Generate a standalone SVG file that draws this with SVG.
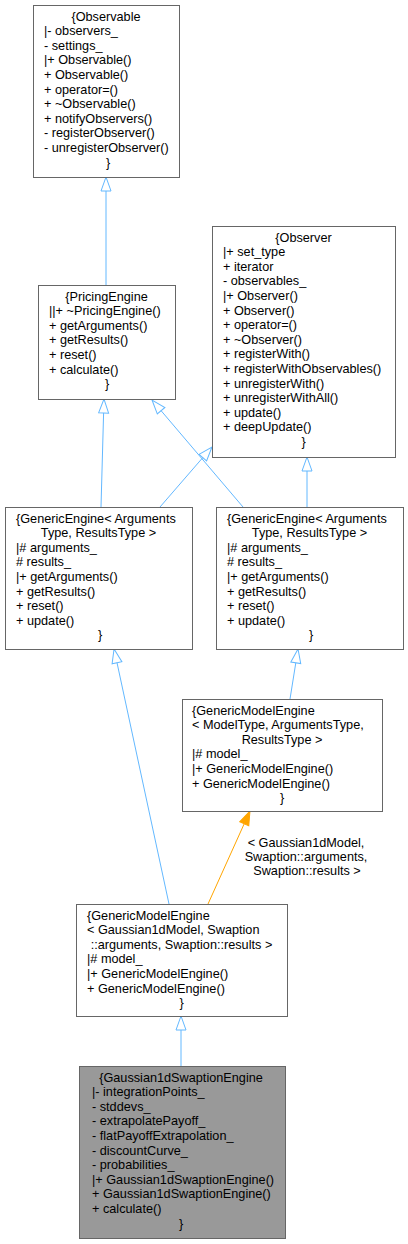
<svg xmlns="http://www.w3.org/2000/svg" width="408" height="1244" viewBox="0 0 408 1244">
<style>
text{font-family:"Liberation Sans",Arial,sans-serif;font-size:12.7px;fill:#000}
.c{text-anchor:middle}
.box{fill:#fff;stroke:#666;stroke-width:1}
.cur{fill:#999;stroke:#666;stroke-width:1}
.e{fill:none;stroke:#63b8ff;stroke-width:1}
.t{fill:none;stroke:#ffa500;stroke-width:1}
</style>
<defs>
<marker id="h" markerUnits="userSpaceOnUse" markerWidth="16" markerHeight="12" viewBox="-1 -6 16 12" refX="0" refY="0" orient="auto"><path d="M0,-5 L14,0 L0,5 Z" fill="none" stroke="#63b8ff" stroke-width="1"/></marker>
<marker id="o" markerUnits="userSpaceOnUse" markerWidth="16" markerHeight="12" viewBox="-1 -6 16 12" refX="0" refY="0" orient="auto"><path d="M0,-5 L14,0 L0,5 Z" fill="#ffa500" stroke="#ffa500" stroke-width="1"/></marker>
</defs>
<g id="edges">
<path class="e" d="M106,285 L106,191" marker-end="url(#h)"/>
<path class="e" d="M101,507 L103.6,413" marker-end="url(#h)"/>
<path class="e" d="M243,507 L161.1,410.7" marker-end="url(#h)"/>
<path class="e" d="M160,507 L202.8,457.6" marker-end="url(#h)"/>
<path class="e" d="M307,507 L307,471" marker-end="url(#h)"/>
<path class="e" d="M290,699 L295.8,662.8" marker-end="url(#h)"/>
<path class="e" d="M169,904 L117,662.7" marker-end="url(#h)"/>
<path class="t" d="M208,904 L244.2,823.8" marker-end="url(#o)"/>
<path class="e" d="M181,1066 L181,1030" marker-end="url(#h)"/>
<text class="c" x="306" y="847">&lt; Gaussian1dModel,</text>
<text class="c" x="306" y="861">Swaption::arguments,</text>
<text class="c" x="307" y="875">Swaption::results &gt;</text>
</g>
<g id="Observable">
<rect class="box" x="33.5" y="5.5" width="146" height="172"/>
<text class="c" x="106" y="20.5">{Observable</text>
<text x="44" y="35.1">|- observers_</text>
<text x="44" y="49.7">- settings_</text>
<text x="44" y="64.3">|+ Observable()</text>
<text x="44" y="78.9">+ Observable()</text>
<text x="44" y="93.5">+ operator=()</text>
<text x="44" y="108.1">+ ~Observable()</text>
<text x="44" y="122.7">+ notifyObservers()</text>
<text x="44" y="137.3">- registerObserver()</text>
<text x="44" y="151.9">- unregisterObserver()</text>
<text class="c" x="108" y="166.5">}</text>
</g>
<g id="PricingEngine">
<rect class="box" x="38.5" y="285.5" width="137" height="114"/>
<text class="c" x="106.5" y="300.5">{PricingEngine</text>
<text x="49" y="315.1">||+ ~PricingEngine()</text>
<text x="49" y="329.7">+ getArguments()</text>
<text x="49" y="344.3">+ getResults()</text>
<text x="49" y="358.9">+ reset()</text>
<text x="49" y="373.5">+ calculate()</text>
<text class="c" x="107" y="388.1">}</text>
</g>
<g id="Observer">
<rect class="box" x="212.5" y="226.5" width="183" height="231"/>
<text class="c" x="303.5" y="241.5">{Observer</text>
<text x="223" y="256.1">|+ set_type</text>
<text x="223" y="270.7">+ iterator</text>
<text x="223" y="285.3">- observables_</text>
<text x="223" y="299.9">|+ Observer()</text>
<text x="223" y="314.5">+ Observer()</text>
<text x="223" y="329.1">+ operator=()</text>
<text x="223" y="343.7">+ ~Observer()</text>
<text x="223" y="358.3">+ registerWith()</text>
<text x="223" y="372.9">+ registerWithObservables()</text>
<text x="223" y="387.5">+ unregisterWith()</text>
<text x="223" y="402.1">+ unregisterWithAll()</text>
<text x="223" y="416.7">+ update()</text>
<text x="223" y="431.3">+ deepUpdate()</text>
<text class="c" x="303.5" y="445.9">}</text>
</g>
<g id="GenericEngineA">
<rect class="box" x="5.5" y="507.5" width="187" height="142"/>
<text x="16" y="522.5">{GenericEngine&lt; Arguments</text>
<text class="c" x="98.5" y="537.1">Type, ResultsType &gt;</text>
<text x="16" y="551.7">|# arguments_</text>
<text x="16" y="566.3"># results_</text>
<text x="16" y="580.9">|+ getArguments()</text>
<text x="16" y="595.5">+ getResults()</text>
<text x="16" y="610.1">+ reset()</text>
<text x="16" y="624.7">+ update()</text>
<text class="c" x="100" y="639.3">}</text>
</g>
<g id="GenericEngineB">
<rect class="box" x="216.5" y="507.5" width="187" height="142"/>
<text x="227" y="522.5">{GenericEngine&lt; Arguments</text>
<text class="c" x="309.5" y="537.1">Type, ResultsType &gt;</text>
<text x="227" y="551.7">|# arguments_</text>
<text x="227" y="566.3"># results_</text>
<text x="227" y="580.9">|+ getArguments()</text>
<text x="227" y="595.5">+ getResults()</text>
<text x="227" y="610.1">+ reset()</text>
<text x="227" y="624.7">+ update()</text>
<text class="c" x="311" y="639.3">}</text>
</g>
<g id="GenericModelEngineT">
<rect class="box" x="182.5" y="699.5" width="200" height="112"/>
<text x="192" y="714.5">{GenericModelEngine</text>
<text x="192" y="729.1">&lt; ModelType, ArgumentsType,</text>
<text class="c" x="282" y="743.7">ResultsType &gt;</text>
<text x="192" y="758.3">|# model_</text>
<text x="192" y="772.9">|+ GenericModelEngine()</text>
<text x="192" y="787.5">+ GenericModelEngine()</text>
<text class="c" x="282" y="802.1">}</text>
</g>
<g id="GenericModelEngineI">
<rect class="box" x="76.5" y="904.5" width="211" height="112"/>
<text x="87" y="919.5">{GenericModelEngine</text>
<text x="87" y="934.1">&lt; Gaussian1dModel, Swaption</text>
<text class="c" x="181.5" y="948.7">::arguments, Swaption::results &gt;</text>
<text x="87" y="963.3">|# model_</text>
<text x="87" y="977.9">|+ GenericModelEngine()</text>
<text x="87" y="992.5">+ GenericModelEngine()</text>
<text class="c" x="181.5" y="1007.1">}</text>
</g>
<g id="Gaussian1dSwaptionEngine">
<rect class="cur" x="79.5" y="1066.5" width="206" height="172"/>
<text class="c" x="181" y="1081.5">{Gaussian1dSwaptionEngine</text>
<text x="92" y="1096.1">|- integrationPoints_</text>
<text x="92" y="1110.7">- stddevs_</text>
<text x="92" y="1125.3">- extrapolatePayoff_</text>
<text x="92" y="1139.9">- flatPayoffExtrapolation_</text>
<text x="92" y="1154.5">- discountCurve_</text>
<text x="92" y="1169.1">- probabilities_</text>
<text x="92" y="1183.7">|+ Gaussian1dSwaptionEngine()</text>
<text x="92" y="1198.3">+ Gaussian1dSwaptionEngine()</text>
<text x="92" y="1212.9">+ calculate()</text>
<text class="c" x="181" y="1227.5">}</text>
</g>
</svg>
